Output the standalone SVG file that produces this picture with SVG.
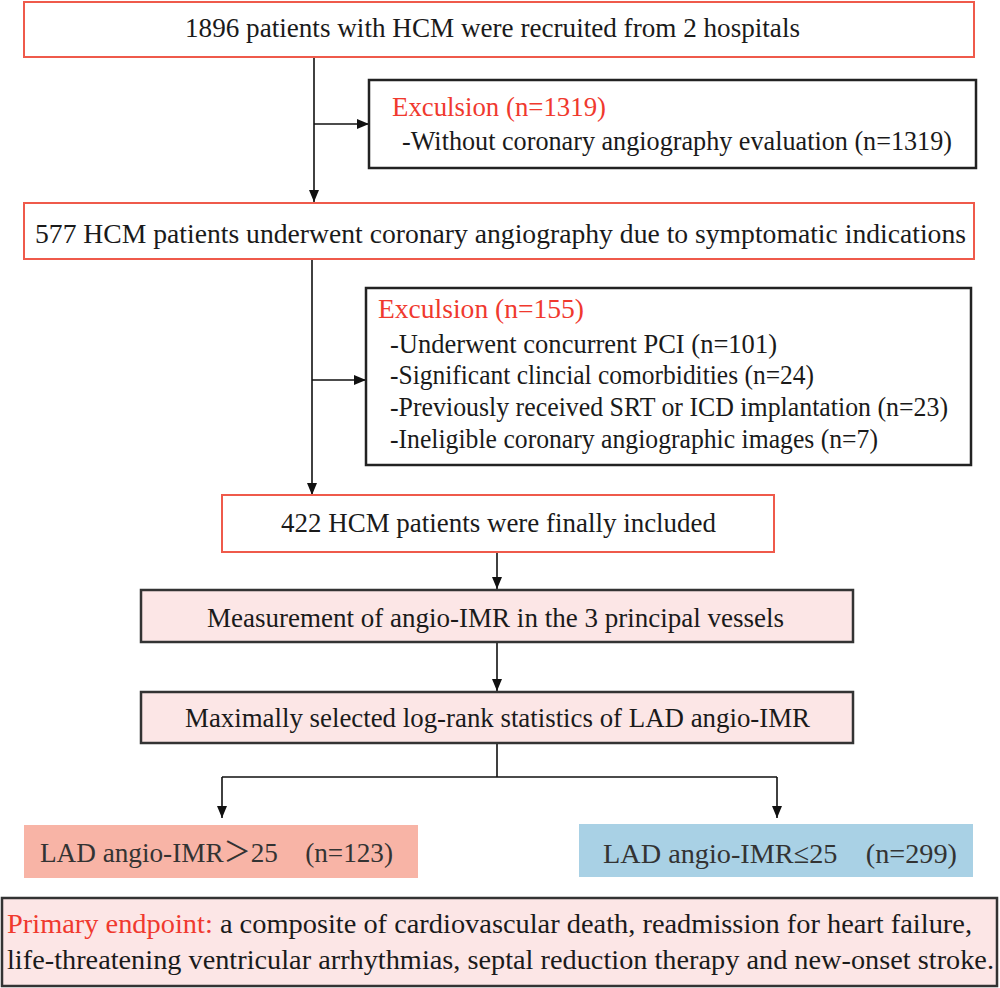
<svg xmlns="http://www.w3.org/2000/svg" width="1000" height="988" viewBox="0 0 1000 988">
<style>
text{font-family:"Liberation Serif","Times New Roman","Noto Sans CJK SC",serif;font-size:27px;fill:#1a1a1a}
.red{fill:#f0392e}
.rbox{fill:#ffffff;stroke:#ef5a4b;stroke-width:2}
.kbox{fill:#ffffff;stroke:#222;stroke-width:2.5}
.pbox{fill:#fce6e6;stroke:#333;stroke-width:2.5}
.conn{stroke:#111;stroke-width:1.6;fill:none}
.big{font-size:28px;fill:#333}
</style>
<defs>
<marker id="ah" viewBox="0 0 12 10" refX="12" refY="5" markerWidth="12" markerHeight="10" markerUnits="userSpaceOnUse" orient="auto">
<path d="M0,0 L12,5 L0,10 z" fill="#111"/>
</marker>
</defs>
<g id="connectors">
<path class="conn" d="M314,57 V202" marker-end="url(#ah)"/>
<path class="conn" d="M314,124 H369" marker-end="url(#ah)"/>
<path class="conn" d="M312,259 V495" marker-end="url(#ah)"/>
<path class="conn" d="M312,380 H366" marker-end="url(#ah)"/>
<path class="conn" d="M497,552 V589" marker-end="url(#ah)"/>
<path class="conn" d="M497,642 V691" marker-end="url(#ah)"/>
<path class="conn" d="M497,743 V777 M222,777 H777"/>
<path class="conn" d="M222,777 V818" marker-end="url(#ah)"/>
<path class="conn" d="M777,777 V818" marker-end="url(#ah)"/>
</g>
<g id="n1">
<rect class="rbox" x="24" y="2" width="950" height="55"/>
<text x="185" y="37" textLength="615" lengthAdjust="spacingAndGlyphs">1896 patients with HCM were recruited from 2 hospitals</text>
</g>
<g id="ex1">
<rect class="kbox" x="369" y="80" width="607" height="88"/>
<text class="red" x="392" y="116" textLength="214" lengthAdjust="spacingAndGlyphs">Exculsion (n=1319)</text>
<text x="402" y="150" textLength="550" lengthAdjust="spacingAndGlyphs">-Without coronary angiography evaluation (n=1319)</text>
</g>
<g id="n2">
<rect class="rbox" x="24" y="203" width="950" height="56"/>
<text x="35" y="243" textLength="931" lengthAdjust="spacingAndGlyphs">577 HCM patients underwent coronary angiography due to symptomatic indications</text>
</g>
<g id="ex2">
<rect class="kbox" x="366" y="288" width="605" height="177"/>
<text class="red" x="378" y="318" textLength="206" lengthAdjust="spacingAndGlyphs">Exculsion (n=155)</text>
<text x="390" y="353" textLength="387" lengthAdjust="spacingAndGlyphs">-Underwent concurrent PCI (n=101)</text>
<text x="390" y="384" textLength="424" lengthAdjust="spacingAndGlyphs">-Significant clincial comorbidities (n=24)</text>
<text x="390" y="416" textLength="558" lengthAdjust="spacingAndGlyphs">-Previously received SRT or ICD implantation (n=23)</text>
<text x="390" y="448" textLength="488" lengthAdjust="spacingAndGlyphs">-Ineligible coronary angiographic images (n=7)</text>
</g>
<g id="n3">
<rect class="rbox" x="222" y="495" width="552" height="57"/>
<text x="281" y="532" textLength="435" lengthAdjust="spacingAndGlyphs">422 HCM patients were finally included</text>
</g>
<g id="n4">
<rect class="pbox" x="141" y="590" width="712" height="52"/>
<text x="207" y="627" textLength="577" lengthAdjust="spacingAndGlyphs">Measurement of angio-IMR in the 3 principal vessels</text>
</g>
<g id="n5">
<rect class="pbox" x="141" y="692" width="712" height="51"/>
<text x="185" y="727" textLength="625" lengthAdjust="spacingAndGlyphs">Maximally selected log-rank statistics of LAD angio-IMR</text>
</g>
<g id="n6">
<rect x="24" y="825" width="394" height="53" fill="#f8b4a6"/>
<text class="big" x="40" y="862" textLength="353" lengthAdjust="spacingAndGlyphs">LAD angio-IMR＞25　(n=123)</text>
</g>
<g id="n7">
<rect x="579" y="824" width="394" height="53" fill="#a9d1e5"/>
<text class="big" x="603" y="863" textLength="354" lengthAdjust="spacingAndGlyphs">LAD angio-IMR≤25　(n=299)</text>
</g>
<g id="n8">
<rect class="pbox" x="2" y="898" width="995" height="88" fill="#fde8e8"/>
<text x="7" y="933" textLength="965" lengthAdjust="spacingAndGlyphs"><tspan class="red">Primary endpoint:</tspan> a composite of cardiovascular death, readmission for heart failure,</text>
<text x="7" y="969" textLength="987" lengthAdjust="spacingAndGlyphs">life-threatening ventricular arrhythmias, septal reduction therapy and new-onset stroke.</text>
</g>
</svg>
